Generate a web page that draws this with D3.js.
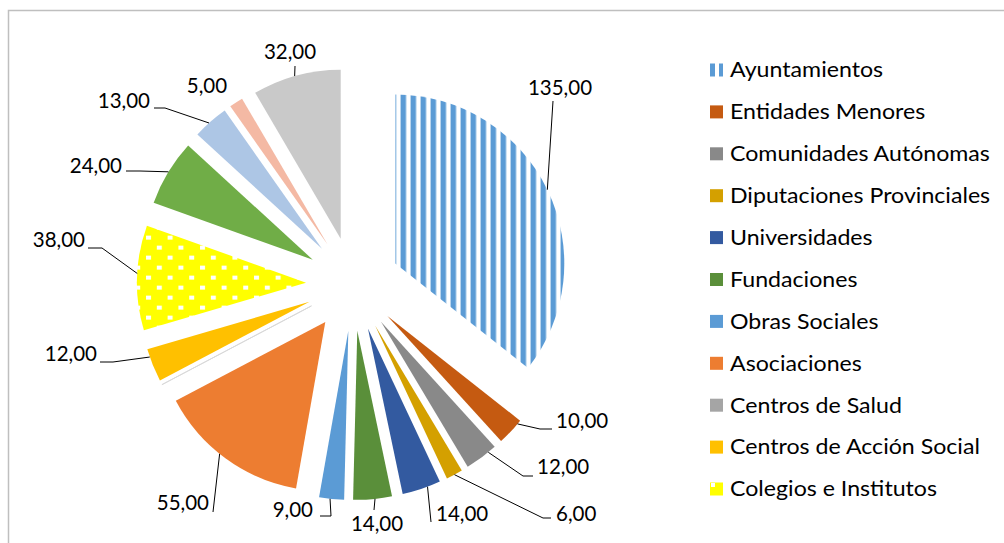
<!DOCTYPE html>
<html>
<head>
<meta charset="utf-8">
<script src="https://cdn.jsdelivr.net/npm/d3@7"></script>
<style>
  body { margin: 0; background: #fff; }
  svg { display: block; }
  text { font-family: Lato, "Open Sans", sans-serif; fill: #000; }
</style>
</head>
<body>
<svg width="1004" height="543"></svg>
<script>
// slices, clockwise from 12 o'clock (the last four are cut out of the legend)
var categories = ["Ayuntamientos", "Entidades Menores", "Comunidades Autónomas",
  "Diputaciones Provinciales", "Universidades", "Fundaciones", "Obras Sociales",
  "Asociaciones", "Centros de Salud", "Centros de Acción Social", "Colegios e Institutos",
  "", "", "", ""];
var values = [135, 10, 12, 6, 14, 14, 9, 55, 0, 12, 38, 24, 13, 5, 32];
var valueLabels = ["135,00", "10,00", "12,00", "6,00", "14,00", "14,00", "9,00",
  "55,00", null, "12,00", "38,00", "24,00", "13,00", "5,00", "32,00"];
var legendNames = categories.slice(0, 11);

var colors = ["url(#stripes)", "#C55A11", "#898989", "#D4A000", "#335AA0", "#5A8F3A",
  "#5B9BD5", "#ED7D31", "#A5A5A5", "#FFC000", "url(#dots)", "#70AD47", "#ADC6E5",
  "#F4B9A4", "#C9C9C9"];
var legendColors = ["url(#stripesL)", "#C55A11", "#898989", "#D4A000", "#335AA0", "#5A8F3A",
  "#5B9BD5", "#ED7D31", "#A5A5A5", "#FFC000", "url(#dotsL)"];

// label layout: where on the arc the leader starts (0..1 of the slice), text spot, leader end, tail end
var labelLayout = [
  { f: 0.5,  x: 560, y: 88,  a: "middle", end: [553, 101] },
  { f: 0.15, x: 556, y: 421, a: "start",  end: [540, 429], tail: [552, 429] },
  { f: 0.25, x: 537, y: 467, a: "start",  end: [523, 476], tail: [533, 476] },
  { f: 0.5,  x: 556, y: 514, a: "start",  end: [543, 518], tail: [551, 518] },
  { f: 0.34, x: 436, y: 514, a: "start",  end: [431, 522] },
  { f: 0.44, x: 377, y: 524, a: "middle", end: [374, 510] },
  { f: 0.56, x: 313, y: 510, a: "end",    end: [331, 516], tail: [320, 516] },
  { f: 0.55, x: 209, y: 503, a: "end",    end: [213, 512] },
  null,
  { f: 0.76, x: 97,  y: 354, a: "end",    end: [113, 362], tail: [100, 362] },
  { f: 0.54, x: 85,  y: 240, a: "end",    end: [102, 248], tail: [88, 248] },
  { f: 0.51, x: 122, y: 166, a: "end",    end: [140, 171], tail: [126, 171] },
  { f: 0.45, x: 150, y: 101, a: "end",    end: [165, 108], tail: [154, 108] },
  { f: 0.5,  x: 207, y: 86,  a: "middle" },
  { f: 0.48, x: 290, y: 52,  a: "middle", end: [295, 66] }
];

var svg = d3.select("svg"),
    cx = 353, cy = 284,
    radius = 169,
    explode = 47;

// frame, cut on the right and bottom
svg.append("path")
  .attr("d", "M8.5,543 V10.5 H1004")
  .attr("fill", "none")
  .attr("stroke", "#BFBFBF")
  .attr("stroke-width", 1.5);

var pie = d3.pie().sort(null).value(function(d) { return d; });
var arcs = pie(values);
var arc = d3.arc().innerRadius(0).outerRadius(radius);

function offset(d) {
  var m = (d.startAngle + d.endAngle) / 2;
  return [cx + explode * Math.sin(m), cy - explode * Math.cos(m)];
}

var defs = svg.append("defs");
var o0 = offset(arcs[0]);
var st = defs.append("pattern").attr("id", "stripes")
  .attr("patternUnits", "userSpaceOnUse")
  .attr("x", o0[0]).attr("y", 0).attr("width", 10).attr("height", 10);
st.append("rect").attr("width", 10).attr("height", 10).attr("fill", "#fff");
st.append("rect").attr("width", 5.5).attr("height", 10).attr("fill", "#5B9BD5");

var dt = defs.append("pattern").attr("id", "dots")
  .attr("patternUnits", "userSpaceOnUse")
  .attr("x", 2).attr("y", 3).attr("width", 21.6).attr("height", 20);
dt.append("rect").attr("width", 21.6).attr("height", 20).attr("fill", "#FFFF00");
dt.append("rect").attr("x", 0).attr("y", 0).attr("width", 5).attr("height", 4).attr("fill", "#fff");
dt.append("rect").attr("x", 10.8).attr("y", 10).attr("width", 5).attr("height", 4).attr("fill", "#fff");

var stL = defs.append("pattern").attr("id", "stripesL")
  .attr("patternUnits", "userSpaceOnUse")
  .attr("x", 711).attr("y", 0).attr("width", 9).attr("height", 10);
stL.append("rect").attr("width", 5).attr("height", 10).attr("fill", "#5B9BD5");

var dtL = defs.append("pattern").attr("id", "dotsL")
  .attr("patternUnits", "userSpaceOnUse")
  .attr("x", 710).attr("y", 0).attr("width", 13).attr("height", 543);
dtL.append("rect").attr("width", 13).attr("height", 543).attr("fill", "#FFFF00");

// slices
svg.append("g").selectAll("path")
  .data(arcs)
  .enter().append("path")
  .attr("transform", function(d) { var o = offset(d); return "translate(" + o[0] + "," + o[1] + ")"; })
  .attr("d", arc)
  .attr("fill", function(d, i) { return colors[i]; })
  .attr("stroke", function(d) { return d.value === 0 ? "#D9D9D9" : "none"; })
  .attr("stroke-width", 1);

// leader lines + value labels
var lab = svg.append("g");
arcs.forEach(function(d, i) {
  var L = labelLayout[i];
  if (!L || valueLabels[i] == null) return;
  var o = offset(d);
  var ang = d.startAngle + L.f * (d.endAngle - d.startAngle);
  var p = [o[0] + radius * Math.sin(ang), o[1] - radius * Math.cos(ang)];
  if (L.end) {
    var pts = [p, L.end];
    if (L.tail) pts.push(L.tail);
    lab.append("path")
      .attr("d", d3.line()(pts))
      .attr("fill", "none")
      .attr("stroke", "#000")
      .attr("stroke-width", 1);
  }
  lab.append("text")
    .attr("x", L.x).attr("y", L.y)
    .attr("dy", "0.36em")
    .attr("text-anchor", L.a)
    .style("font-size", "20.5px")
    .text(valueLabels[i]);
});

// legend
var legend = svg.append("g").selectAll("g")
  .data(legendNames)
  .enter().append("g")
  .attr("transform", function(d, i) { return "translate(710," + (70 + i * 41.9) + ")"; });
legend.append("rect")
  .attr("y", -6.5).attr("width", 13).attr("height", 13)
  .attr("fill", function(d, i) { return legendColors[i]; });
legend.filter(function(d, i) { return i === 10; }).append("rect")
  .attr("x", 1).attr("y", -6).attr("width", 4).attr("height", 4).attr("fill", "#fff");
// the reference face is narrow and wide-set, so stretch the text a bit
legend.append("text")
  .attr("transform", "translate(20,0) scale(1.13,1)")
  .attr("dy", "0.36em")
  .style("font-size", "20.5px")
  .text(function(d) { return d; });
</script>
</body>
</html>
